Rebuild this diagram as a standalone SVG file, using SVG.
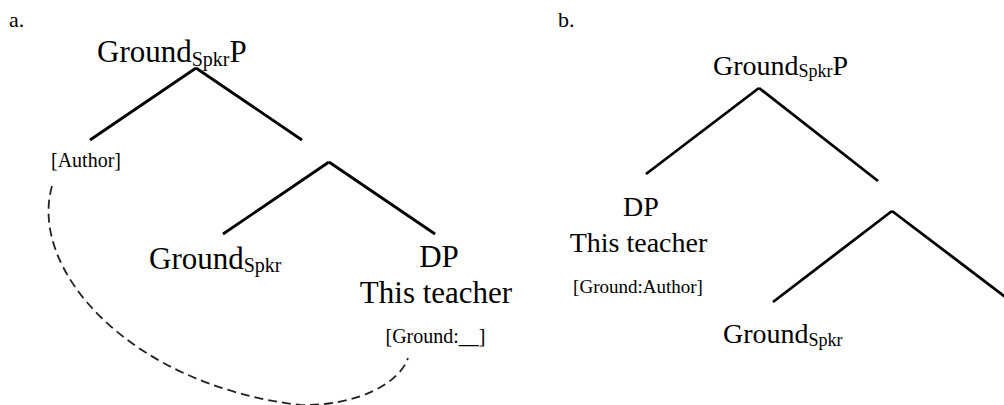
<svg xmlns="http://www.w3.org/2000/svg" width="1004" height="405" viewBox="0 0 1004 405">
<style>
text { font-family: "Liberation Serif", "Times New Roman", serif; fill: #000; }
.la { font-size: 31px; }
.sa { font-size: 20px; }
.lb { font-size: 28px; }
.sb { font-size: 18px; }
.fb { font-size: 19px; }
.panel { font-size: 22px; }
.edge { stroke: #000; stroke-width: 2.8; fill: none; stroke-linecap: butt; }
.dash { stroke: #222; stroke-width: 1.8; fill: none; stroke-dasharray: 9 5; }
</style>
<rect width="1004" height="405" fill="#fff"/>
<g id="labels">
  <text class="panel" x="9" y="27">a.</text>
  <text class="panel" x="558" y="27">b.</text>
</g>
<g id="connectors">
  <line class="edge" x1="196" y1="68" x2="90" y2="140"/>
  <line class="edge" x1="196" y1="68" x2="302" y2="140"/>
  <line class="edge" x1="329" y1="162" x2="223" y2="234"/>
  <line class="edge" x1="329" y1="162" x2="435" y2="234"/>
  <path class="dash" d="M52,186 C28,270 130,385 300,405 C360,406 400,382 408,358"/>
  <line class="edge" x1="759" y1="88" x2="646" y2="174"/>
  <line class="edge" x1="759" y1="88" x2="878" y2="181"/>
  <line class="edge" x1="892" y1="211" x2="773" y2="302"/>
  <line class="edge" x1="892" y1="211" x2="1012" y2="302"/>
</g>
<g id="a-root">
  <text class="la" x="97" y="62">Ground<tspan class="sa" dy="4">Spkr</tspan><tspan dy="-4">P</tspan></text>
</g>
<g id="a-author">
  <text class="sa" x="86" y="167" text-anchor="middle">[Author]</text>
</g>
<g id="a-ground">
  <text class="la" x="149" y="269">Ground<tspan class="sa" dy="3">Spkr</tspan></text>
</g>
<g id="a-dp">
  <text class="la" x="439" y="267" text-anchor="middle">DP</text>
  <text class="la" x="436" y="303" text-anchor="middle">This teacher</text>
  <text class="sa" x="435.5" y="343" text-anchor="middle">[Ground:__]</text>
</g>
<g id="b-root">
  <text class="lb" x="713" y="75">Ground<tspan class="sb" dy="2">Spkr</tspan><tspan dy="-2">P</tspan></text>
</g>
<g id="b-dp">
  <text class="lb" x="641" y="216" text-anchor="middle">DP</text>
  <text class="lb" x="638.5" y="252" text-anchor="middle">This teacher</text>
  <text class="fb" x="638" y="293" text-anchor="middle">[Ground:Author]</text>
</g>
<g id="b-ground">
  <text class="lb" x="723" y="343">Ground<tspan class="sb" dy="3">Spkr</tspan></text>
</g>
</svg>
